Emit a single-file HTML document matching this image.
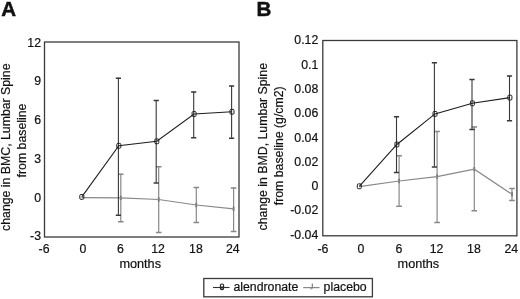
<!DOCTYPE html>
<html><head><meta charset="utf-8"><style>
html,body{margin:0;padding:0;background:#fff;}
svg{display:block;filter:grayscale(1);}
.lab{font-family:"Liberation Sans", sans-serif;font-size:12.3px;fill:#111;stroke:#111;stroke-width:0.2px;}
.big{font-family:"Liberation Sans", sans-serif;font-size:20.5px;font-weight:bold;fill:#111;stroke:#111;stroke-width:0.5px;}
</style></head><body>
<svg width="520" height="299" viewBox="0 0 520 299">
<rect width="520" height="299" fill="#fff"/>
<text x="1.2" y="16" class="big">A</text>
<text x="256.5" y="15.8" class="big">B</text>
<rect x="44.5" y="42" width="194.5" height="195" fill="none" stroke="#3a3a3a" stroke-width="1.3"/>
<text x="41" y="46.6" text-anchor="end" class="lab">12</text>
<text x="41" y="84.8" text-anchor="end" class="lab">9</text>
<text x="41" y="123.8" text-anchor="end" class="lab">6</text>
<text x="41" y="162.8" text-anchor="end" class="lab">3</text>
<text x="41" y="201.8" text-anchor="end" class="lab">0</text>
<text x="41" y="240.3" text-anchor="end" class="lab">-3</text>
<text x="44" y="253" text-anchor="middle" class="lab">-6</text>
<text x="82.9" y="253" text-anchor="middle" class="lab">0</text>
<text x="120.3" y="253" text-anchor="middle" class="lab">6</text>
<text x="158.1" y="253" text-anchor="middle" class="lab">12</text>
<text x="195.9" y="253" text-anchor="middle" class="lab">18</text>
<text x="232.8" y="253" text-anchor="middle" class="lab">24</text>
<text x="140.2" y="267.6" text-anchor="middle" class="lab" style="font-size:12.7px">months</text>
<text transform="translate(10,147.2) rotate(-90)" text-anchor="middle" class="lab">change in BMC, Lumbar Spine</text>
<text transform="translate(26,140.5) rotate(-90)" text-anchor="middle" class="lab">from baseline</text>
<path d="M120.8 173.8V221.4" stroke="#888888" stroke-width="1.2" fill="none"/>
<path d="M118.0 174.2H123.6M118.0 221.8H123.6" stroke="#888888" stroke-width="1.5" fill="none"/>
<path d="M158.7 166.4V232.1" stroke="#888888" stroke-width="1.2" fill="none"/>
<path d="M155.9 166.8H161.5M155.9 232.5H161.5" stroke="#888888" stroke-width="1.5" fill="none"/>
<path d="M196.3 187V222" stroke="#888888" stroke-width="1.2" fill="none"/>
<path d="M193.5 187.4H199.1M193.5 222.4H199.1" stroke="#888888" stroke-width="1.5" fill="none"/>
<path d="M233.6 187.5V231" stroke="#888888" stroke-width="1.2" fill="none"/>
<path d="M230.8 187.9H236.4M230.8 231.4H236.4" stroke="#888888" stroke-width="1.5" fill="none"/>
<rect x="119.9" y="195.7" width="1.8" height="4.4" fill="#7a7a7a"/>
<rect x="157.8" y="197.3" width="1.8" height="4.4" fill="#7a7a7a"/>
<rect x="195.4" y="202.8" width="1.8" height="4.4" fill="#7a7a7a"/>
<rect x="232.7" y="206.6" width="1.8" height="4.4" fill="#7a7a7a"/>
<polyline points="81.5,197.7 120.8,197.9 158.7,199.5 196.3,205 233.6,208.8" fill="none" stroke="#888888" stroke-width="1.2"/>
<path d="M118.4 77.8V214.8" stroke="#383838" stroke-width="1.1" fill="none"/>
<path d="M115.8 78.2H121.0M115.8 215.2H121.0" stroke="#383838" stroke-width="1.5" fill="none"/>
<path d="M156.2 100V182.7" stroke="#383838" stroke-width="1.1" fill="none"/>
<path d="M153.6 100.4H158.8M153.6 183.1H158.8" stroke="#383838" stroke-width="1.5" fill="none"/>
<path d="M193.7 91.6V137.4" stroke="#383838" stroke-width="1.1" fill="none"/>
<path d="M191.1 92.0H196.3M191.1 137.8H196.3" stroke="#383838" stroke-width="1.5" fill="none"/>
<path d="M231.6 85.7V137.8" stroke="#383838" stroke-width="1.1" fill="none"/>
<path d="M229.0 86.1H234.2M229.0 138.2H234.2" stroke="#383838" stroke-width="1.5" fill="none"/>
<polyline points="81.8,196.9 118.8,145.8 156.8,141.3 194.1,114.0 232.0,111.8" fill="none" stroke="#1e1e1e" stroke-width="1.1"/>
<rect x="79.8" y="194.5" width="4" height="4.8" rx="1" fill="none" stroke="#1e1e1e" stroke-width="1"/>
<rect x="116.8" y="143.4" width="4" height="4.8" rx="1" fill="none" stroke="#1e1e1e" stroke-width="1"/>
<rect x="154.8" y="138.9" width="4" height="4.8" rx="1" fill="none" stroke="#1e1e1e" stroke-width="1"/>
<rect x="192.1" y="111.6" width="4" height="4.8" rx="1" fill="none" stroke="#1e1e1e" stroke-width="1"/>
<rect x="230.0" y="109.4" width="4" height="4.8" rx="1" fill="none" stroke="#1e1e1e" stroke-width="1"/>
<rect x="322.8" y="40.5" width="194.1" height="195.3" fill="none" stroke="#3a3a3a" stroke-width="1.3"/>
<text x="318.3" y="43.6" text-anchor="end" class="lab">0.12</text>
<text x="318.3" y="68.6" text-anchor="end" class="lab">0.1</text>
<text x="318.3" y="93.1" text-anchor="end" class="lab">0.08</text>
<text x="318.3" y="117.4" text-anchor="end" class="lab">0.06</text>
<text x="318.3" y="141.7" text-anchor="end" class="lab">0.04</text>
<text x="318.3" y="165.9" text-anchor="end" class="lab">0.02</text>
<text x="318.3" y="190.2" text-anchor="end" class="lab">0</text>
<text x="318.3" y="214.4" text-anchor="end" class="lab">-0.02</text>
<text x="318.3" y="238.6" text-anchor="end" class="lab">-0.04</text>
<text x="322.9" y="253" text-anchor="middle" class="lab">-6</text>
<text x="361" y="253" text-anchor="middle" class="lab">0</text>
<text x="398.9" y="253" text-anchor="middle" class="lab">6</text>
<text x="436.5" y="253" text-anchor="middle" class="lab">12</text>
<text x="473.9" y="253" text-anchor="middle" class="lab">18</text>
<text x="511.3" y="253" text-anchor="middle" class="lab">24</text>
<text x="418.4" y="267.6" text-anchor="middle" class="lab" style="font-size:12.7px">months</text>
<text transform="translate(267.3,146.7) rotate(-90)" text-anchor="middle" class="lab">change in BMD, Lumbar Spine</text>
<text transform="translate(282.9,145.8) rotate(-90)" text-anchor="middle" class="lab">from baseline (g/cm2)</text>
<path d="M399.1 155.3V205.8" stroke="#888888" stroke-width="1.2" fill="none"/>
<path d="M396.3 155.7H401.9M396.3 206.2H401.9" stroke="#888888" stroke-width="1.5" fill="none"/>
<path d="M437.1 131V222.1" stroke="#888888" stroke-width="1.2" fill="none"/>
<path d="M434.3 131.4H439.9M434.3 222.5H439.9" stroke="#888888" stroke-width="1.5" fill="none"/>
<path d="M474.3 126.5V210.3" stroke="#888888" stroke-width="1.2" fill="none"/>
<path d="M471.5 126.9H477.1M471.5 210.7H477.1" stroke="#888888" stroke-width="1.5" fill="none"/>
<path d="M512 188.1V200.1" stroke="#888888" stroke-width="1.2" fill="none"/>
<path d="M509.2 188.5H514.8M509.2 200.5H514.8" stroke="#888888" stroke-width="1.5" fill="none"/>
<rect x="398.2" y="178.8" width="1.8" height="4.4" fill="#7a7a7a"/>
<rect x="436.2" y="174.4" width="1.8" height="4.4" fill="#7a7a7a"/>
<rect x="473.4" y="167.0" width="1.8" height="4.4" fill="#7a7a7a"/>
<rect x="511.1" y="192.1" width="1.8" height="4.4" fill="#7a7a7a"/>
<polyline points="359.3,186.7 399.1,181 437.1,176.6 474.3,169.2 512,194.3" fill="none" stroke="#888888" stroke-width="1.2"/>
<path d="M396.5 116.3V172.2" stroke="#383838" stroke-width="1.1" fill="none"/>
<path d="M393.9 116.7H399.1M393.9 172.6H399.1" stroke="#383838" stroke-width="1.5" fill="none"/>
<path d="M434.4 62.4V166.6" stroke="#383838" stroke-width="1.1" fill="none"/>
<path d="M431.8 62.8H437.0M431.8 167.0H437.0" stroke="#383838" stroke-width="1.5" fill="none"/>
<path d="M472 79V129.2" stroke="#383838" stroke-width="1.1" fill="none"/>
<path d="M469.4 79.4H474.6M469.4 129.6H474.6" stroke="#383838" stroke-width="1.5" fill="none"/>
<path d="M509.5 75.5V120.4" stroke="#383838" stroke-width="1.1" fill="none"/>
<path d="M506.9 75.9H512.1M506.9 120.8H512.1" stroke="#383838" stroke-width="1.5" fill="none"/>
<polyline points="359.3,186.3 396.9,144.5 435.0,113.9 472.4,103.3 509.9,97.6" fill="none" stroke="#1e1e1e" stroke-width="1.1"/>
<rect x="357.3" y="183.9" width="4" height="4.8" rx="1" fill="none" stroke="#1e1e1e" stroke-width="1"/>
<rect x="394.9" y="142.1" width="4" height="4.8" rx="1" fill="none" stroke="#1e1e1e" stroke-width="1"/>
<rect x="433.0" y="111.5" width="4" height="4.8" rx="1" fill="none" stroke="#1e1e1e" stroke-width="1"/>
<rect x="470.4" y="100.9" width="4" height="4.8" rx="1" fill="none" stroke="#1e1e1e" stroke-width="1"/>
<rect x="507.9" y="95.2" width="4" height="4.8" rx="1" fill="none" stroke="#1e1e1e" stroke-width="1"/>

<rect x="203.8" y="278.5" width="168.6" height="18.3" fill="none" stroke="#3a3a3a" stroke-width="1.3"/>
<path d="M213 287.5H229.5" stroke="#333" stroke-width="1.1"/>
<rect x="220.4" y="284" width="3.2" height="5.6" rx="1.3" fill="none" stroke="#222" stroke-width="1.1"/>
<path d="M221 287.5H223" stroke="#222" stroke-width="2"/>
<text x="233.4" y="290.6" class="lab">alendronate</text>
<path d="M303.2 287.6H319.5" stroke="#888888" stroke-width="1.2"/>
<path d="M312.3 283.6V288.5" stroke="#777" stroke-width="1.1"/>
<path d="M310.2 288.8H312" stroke="#888" stroke-width="1"/>
<text x="323.6" y="290.6" class="lab">placebo</text>

</svg>
</body></html>
